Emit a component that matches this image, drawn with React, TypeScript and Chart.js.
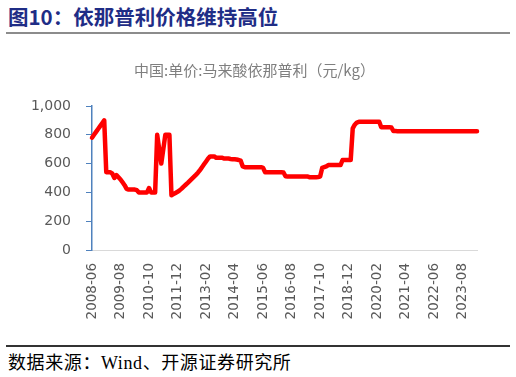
import React, { useEffect, useRef } from "react";
import { Chart, registerables } from "chart.js";

Chart.register(...registerables);

// Monthly categories from 2008-06 to 2024-03
const startYear = 2008;
const startMonth = 6;
const monthCount = 190;
const categories: string[] = [];
for (let i = 0; i < monthCount; i++) {
  const total = startMonth - 1 + i;
  const y = startYear + Math.floor(total / 12);
  const m = (total % 12) + 1;
  categories.push(`${y}-${m < 10 ? "0" + m : m}`);
}

const tickLabels = [
  "2008-06", "2009-08", "2010-10", "2011-12", "2013-02", "2014-04", "2015-06",
  "2016-08", "2017-10", "2018-12", "2020-02", "2021-04", "2022-06", "2023-08",
];

// 中国:单价:马来酸依那普利（元/kg）
const priceValues = [
  780, 800, 820, 840, 860, 880, 900, 540, 540, 540,
  530, 500, 520, 505, 490, 470, 450, 425, 420, 420,
  420, 420, 415, 400, 400, 400, 400, 400, 430, 400,
  400, 400, 800, 700, 600, 700, 800, 800, 800, 380,
  388, 396, 404, 414, 426, 440, 453, 466, 480, 494,
  508, 522, 537, 555, 575, 595, 615, 635, 650, 650,
  650, 640, 640, 640, 640, 635, 635, 635, 632, 630,
  630, 628, 625, 620, 580, 575, 575, 575, 575, 575,
  575, 575, 575, 575, 570, 540, 540, 540, 540, 540,
  540, 540, 540, 540, 538, 512, 510, 510, 510, 510,
  510, 510, 510, 510, 510, 510, 510, 505, 505, 505,
  505, 507, 510, 570, 575, 580, 590, 590, 590, 590,
  590, 590, 590, 625, 625, 625, 625, 625, 845, 870,
  885, 890, 890, 890, 890, 890, 890, 890, 890, 890,
  890, 890, 852, 852, 852, 852, 852, 850, 826, 826,
  825, 825, 825, 825, 825, 825, 825, 825, 825, 825,
  825, 825, 825, 825, 825, 825, 825, 825, 825, 825,
  825, 825, 825, 825, 825, 825, 825, 825, 825, 825,
  825, 825, 825, 825, 825, 825, 825, 825, 825, 825,
];

const chartTitle = "中国:单价:马来酸依那普利（元/kg）";
const yMin = 0;
const yMax = 1000;
const yStep = 200;

export default function App() {
  const canvasRef = useRef<HTMLCanvasElement | null>(null);

  useEffect(() => {
    if (!canvasRef.current) return;
    const chart = new Chart(canvasRef.current, {
      type: "line",
      data: {
        labels: categories,
        datasets: [
          {
            data: priceValues,
            borderColor: "#ff0000",
            backgroundColor: "#ff0000",
            borderWidth: 4.5,
            pointRadius: 0,
            tension: 0,
            borderJoinStyle: "round",
            borderCapStyle: "round",
            clip: false as any,
          },
        ],
      },
      options: {
        responsive: false,
        animation: false,
        layout: { padding: { left: 32, right: 39, top: 0, bottom: 0 } },
        plugins: {
          legend: { display: false },
          tooltip: { enabled: false },
          title: {
            display: true,
            text: chartTitle,
            color: "#7f7f7f",
            font: { family: '"Noto Sans CJK SC"', size: 15, weight: "normal" as any, lineHeight: 1.2 },
            padding: { top: 21, bottom: 27 },
          },
        },
        scales: {
          x: {
            type: "category",
            offset: false,
            grid: { display: false, drawTicks: false },
            border: { display: true, color: "#d9d9d9", width: 1 },
            ticks: {
              autoSkip: false,
              maxRotation: 90,
              minRotation: 90,
              padding: 13,
              color: "#595959",
              font: { family: '"DejaVu Sans"', size: 13.5 },
              callback: (_v: any, i: number) =>
                tickLabels.includes(categories[i]) ? categories[i] : "",
            },
            afterFit: (s: any) => {
              s.height = 90;
            },
          },
          y: {
            min: yMin,
            max: yMax,
            grid: {
              display: true,
              drawOnChartArea: false,
              drawTicks: true,
              tickLength: 6,
              color: "#4f81bd",
            },
            border: { display: true, color: "#4f81bd", width: 1.5 },
            ticks: {
              stepSize: yStep,
              padding: 15,
              color: "#595959",
              font: { family: '"DejaVu Sans"', size: 14 },
              callback: (v: any) => Number(v).toLocaleString("en-US"),
            },
            afterFit: (s: any) => {
              s.width = 60;
            },
          },
        },
      },
    });
    return () => chart.destroy();
  }, []);

  return (
    <div
      style={{
        position: "fixed",
        left: 0,
        top: 0,
        width: 516,
        height: 377,
        background: "#ffffff",
        overflow: "hidden",
      }}
    >
      <div
        style={{
          position: "absolute",
          left: 8,
          top: 3,
          fontFamily: '"Noto Sans CJK SC", sans-serif',
          fontWeight: "bold",
          fontSize: 20.5,
          lineHeight: "26px",
          color: "#1f2d86",
          whiteSpace: "nowrap",
        }}
      >
        图10：依那普利价格维持高位
      </div>
      <div
        style={{
          position: "absolute",
          left: 6,
          top: 32,
          width: 504,
          height: 2,
          background: "#8c8c8c",
        }}
      />
      <div style={{ position: "absolute", left: 0, top: 40, width: 516, height: 300 }}>
        <canvas ref={canvasRef} width={516} height={300} style={{ width: 516, height: 300 }} />
      </div>
      <div
        style={{
          position: "absolute",
          left: 6,
          top: 345,
          width: 504,
          height: 2,
          background: "#333333",
        }}
      />
      <div
        style={{
          position: "absolute",
          left: 8,
          top: 351,
          fontFamily: '"Liberation Serif", "Noto Sans CJK SC", serif',
          fontSize: 18,
          letterSpacing: "0.6px",
          lineHeight: "24px",
          color: "#000000",
          whiteSpace: "nowrap",
        }}
      >
        数据来源：Wind、开源证券研究所
      </div>
    </div>
  );
}
